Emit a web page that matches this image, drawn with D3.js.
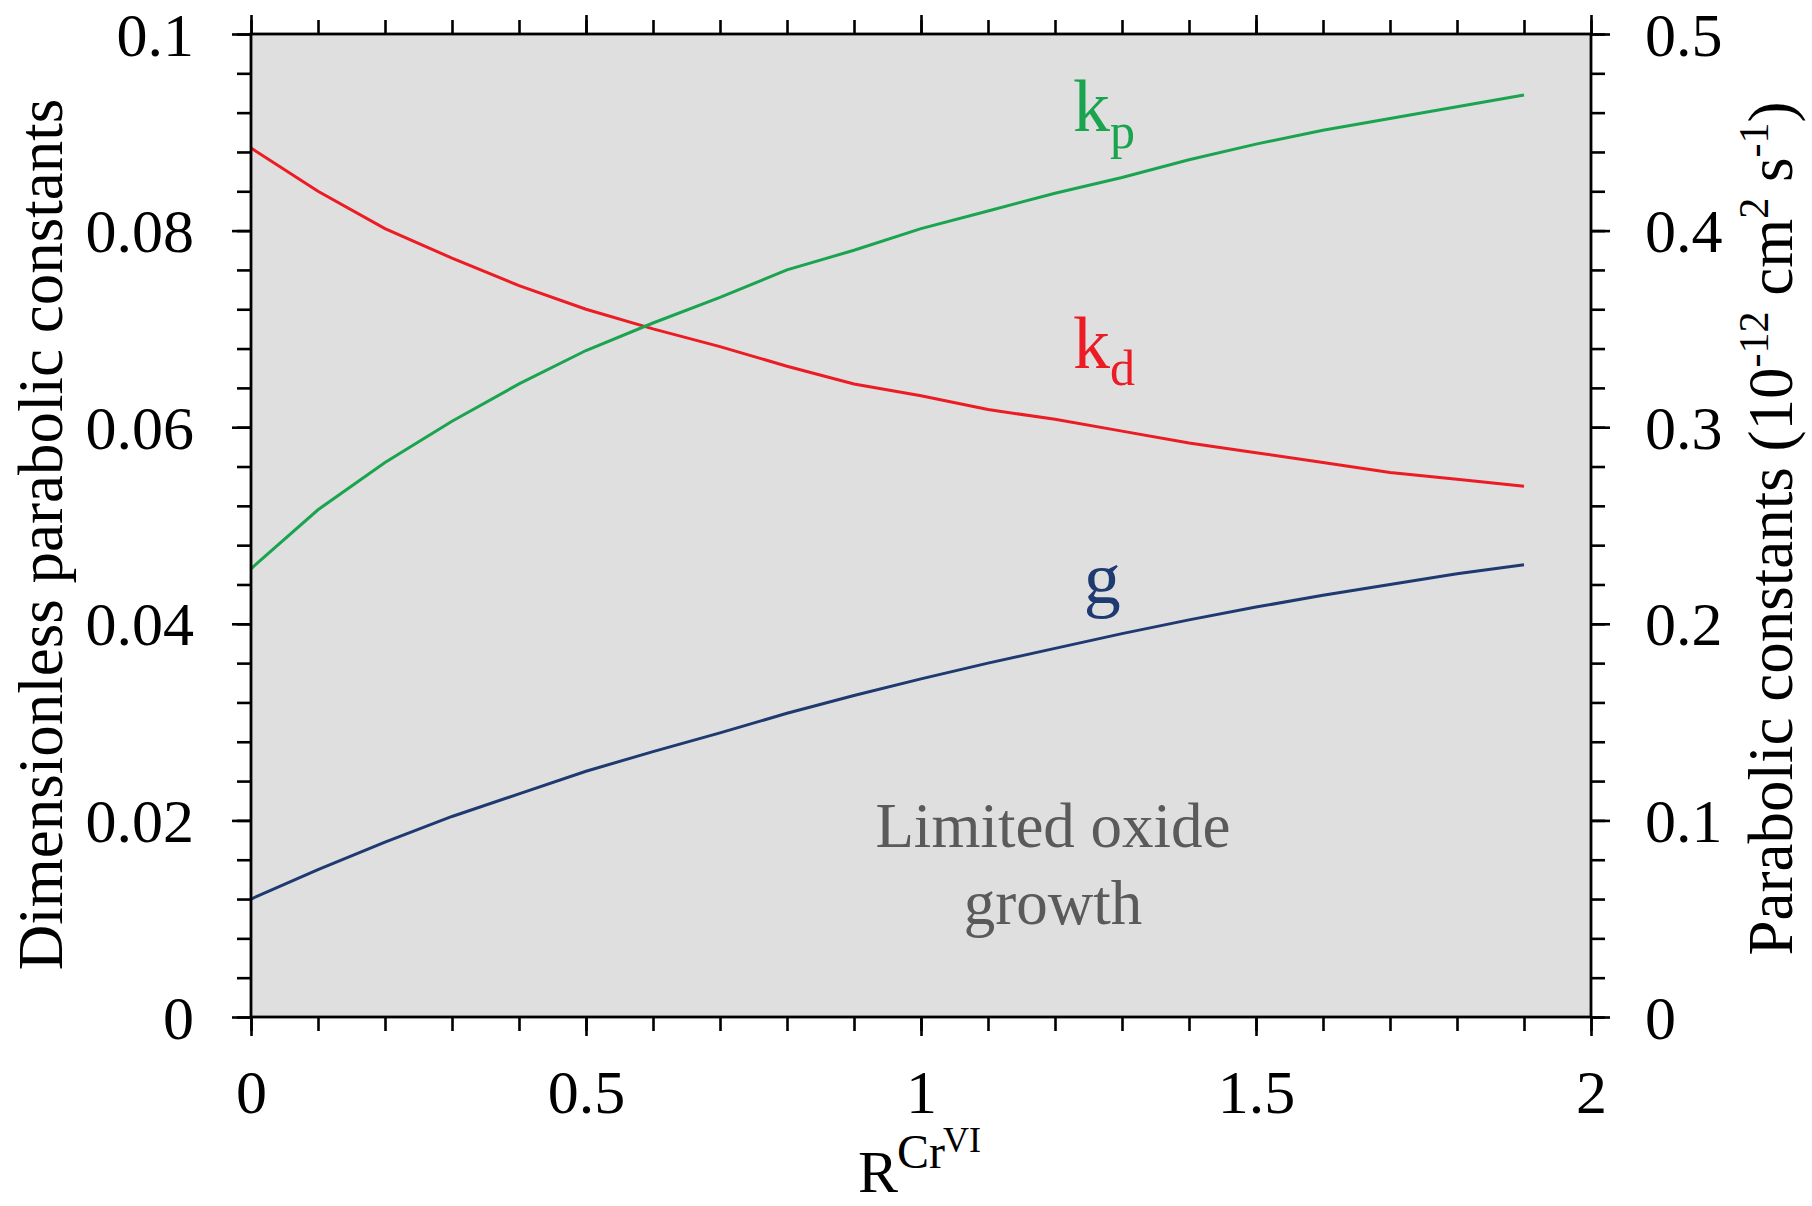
<!DOCTYPE html>
<html>
<head>
<meta charset="utf-8">
<script src="https://cdn.jsdelivr.net/npm/d3@7/dist/d3.min.js"></script>
<style>
  html, body { margin: 0; padding: 0; background: #ffffff; }
  svg { display: block; }
  text { font-family: "Liberation Serif", "Times New Roman", serif; }
</style>
</head>
<body>
<svg id="chart" width="1812" height="1206"></svg>
<script>
// R^CrVI values (x) and the three computed curves
const ratio = [0, 0.1, 0.2, 0.3, 0.4, 0.5, 0.6, 0.7, 0.8, 0.9,
               1.0, 1.1, 1.2, 1.3, 1.4, 1.5, 1.6, 1.7, 1.8, 1.9];
// parabolic constants, 10^-12 cm^2 s^-1 (right axis)
const kp = [0.228, 0.258, 0.282, 0.303, 0.322, 0.339, 0.353, 0.366, 0.380, 0.390,
            0.401, 0.410, 0.419, 0.427, 0.436, 0.444, 0.451, 0.457, 0.463, 0.469];
const kd = [0.442, 0.420, 0.401, 0.386, 0.372, 0.360, 0.350, 0.341, 0.331, 0.322,
            0.316, 0.309, 0.304, 0.298, 0.292, 0.287, 0.282, 0.277, 0.2735, 0.270];
// dimensionless constant (left axis)
const g = [0.0120, 0.0150, 0.0178, 0.0204, 0.0227, 0.0250, 0.0270, 0.0289, 0.0309, 0.0327,
           0.0344, 0.0360, 0.0375, 0.0390, 0.0404, 0.0417, 0.0429, 0.0440, 0.0451, 0.0460];

// tick values and labels
const xMajor = [0, 0.5, 1, 1.5, 2];
const xMajorLabels = ["0", "0.5", "1", "1.5", "2"];
const xMinor = d3.range(0, 21).map(i => i / 10);
const yLeftMajor = [0, 0.02, 0.04, 0.06, 0.08, 0.1];
const yLeftLabels = ["0", "0.02", "0.04", "0.06", "0.08", "0.1"];
const yLeftMinor = d3.range(0, 26).map(i => i * 0.004);
const yRightMajor = [0, 0.1, 0.2, 0.3, 0.4, 0.5];
const yRightLabels = ["0", "0.1", "0.2", "0.3", "0.4", "0.5"];
const yRightMinor = d3.range(0, 26).map(i => i * 0.02);

const colors = { kp: "#1ba44f", kd: "#ec1c24", g: "#1e3a70", note: "#5a5a5a" };

const svg = d3.select("#chart");
const m = { left: 251, right: 1591, top: 34, bottom: 1017 };

const x = d3.scaleLinear().domain([0, 2]).range([m.left, m.right]);
const yL = d3.scaleLinear().domain([0, 0.1]).range([m.bottom, m.top]);
const yR = d3.scaleLinear().domain([0, 0.5]).range([m.bottom, m.top]);

// plot background
svg.append("rect")
  .attr("x", m.left).attr("y", m.top)
  .attr("width", m.right - m.left).attr("height", m.bottom - m.top)
  .attr("fill", "#dfdfdf");

// curves
const lineR = d3.line().x((d, i) => x(ratio[i])).y(d => yR(d));
const lineL = d3.line().x((d, i) => x(ratio[i])).y(d => yL(d));

svg.append("path").datum(kd).attr("d", lineR)
  .attr("fill", "none").attr("stroke", colors.kd).attr("stroke-width", 3);
svg.append("path").datum(kp).attr("d", lineR)
  .attr("fill", "none").attr("stroke", colors.kp).attr("stroke-width", 3);
svg.append("path").datum(g).attr("d", lineL)
  .attr("fill", "none").attr("stroke", colors.g).attr("stroke-width", 3);

// axes
const tickFont = 62;
function styleAxis(sel) {
  sel.select(".domain").remove();
  sel.selectAll(".tick line").attr("stroke", "#000").attr("stroke-width", 2.6);
  sel.selectAll("text").attr("font-family", "Liberation Serif")
    .attr("font-size", tickFont).attr("fill", "#000");
}

// minor ticks
svg.append("g").attr("transform", `translate(0,${m.bottom})`)
  .call(d3.axisBottom(x).tickValues(xMinor).tickSize(14).tickFormat(""))
  .call(styleAxis);
svg.append("g").attr("transform", `translate(0,${m.top})`)
  .call(d3.axisTop(x).tickValues(xMinor).tickSize(14).tickFormat(""))
  .call(styleAxis);
svg.append("g").attr("transform", `translate(${m.left},0)`)
  .call(d3.axisLeft(yL).tickValues(yLeftMinor).tickSize(14).tickFormat(""))
  .call(styleAxis);
svg.append("g").attr("transform", `translate(${m.right},0)`)
  .call(d3.axisRight(yR).tickValues(yRightMinor).tickSize(14).tickFormat(""))
  .call(styleAxis);

// major ticks with labels
const gx = svg.append("g").attr("transform", `translate(0,${m.bottom})`)
  .call(d3.axisBottom(x).tickValues(xMajor).tickSize(19)
    .tickFormat((d, i) => xMajorLabels[i]))
  .call(styleAxis);
gx.selectAll("text").attr("y", 96).attr("dy", 0);

svg.append("g").attr("transform", `translate(0,${m.top})`)
  .call(d3.axisTop(x).tickValues(xMajor).tickSize(19).tickFormat(""))
  .call(styleAxis);

const gl = svg.append("g").attr("transform", `translate(${m.left},0)`)
  .call(d3.axisLeft(yL).tickValues(yLeftMajor).tickSize(19).tickPadding(38)
    .tickFormat((d, i) => yLeftLabels[i]))
  .call(styleAxis);
gl.selectAll("text").attr("dy", "0.34em");

const gr = svg.append("g").attr("transform", `translate(${m.right},0)`)
  .call(d3.axisRight(yR).tickValues(yRightMajor).tickSize(19).tickPadding(35)
    .tickFormat((d, i) => yRightLabels[i]))
  .call(styleAxis);
gr.selectAll("text").attr("dy", "0.34em");

// frame
svg.append("rect")
  .attr("x", m.left).attr("y", m.top)
  .attr("width", m.right - m.left).attr("height", m.bottom - m.top)
  .attr("fill", "none").attr("stroke", "#000").attr("stroke-width", 2.8);

// curve labels
function subLabel(main, sub, xv, yv, color) {
  const t = svg.append("text")
    .attr("x", x(xv)).attr("y", yL(yv))
    .attr("fill", color).attr("font-size", 74);
  t.append("tspan").text(main);
  t.append("tspan").attr("font-size", 50).attr("dy", 17).text(sub);
}
subLabel("k", "p", 1.227, 0.0901, colors.kp);
subLabel("k", "d", 1.227, 0.0660, colors.kd);

svg.append("text")
  .attr("x", x(1.243)).attr("y", yL(0.0421))
  .attr("fill", colors.g).attr("font-size", 74).text("g");

// region note
svg.append("text")
  .attr("x", x(1.197)).attr("y", yL(0.01729))
  .attr("text-anchor", "middle").attr("fill", colors.note)
  .attr("font-size", 63).text("Limited oxide");
svg.append("text")
  .attr("x", x(1.197)).attr("y", yL(0.00946))
  .attr("text-anchor", "middle").attr("fill", colors.note)
  .attr("font-size", 63).text("growth");

// axis titles
svg.append("text")
  .attr("transform", `translate(62,${(m.top + m.bottom) / 2 + 9}) rotate(-90)`)
  .attr("text-anchor", "middle").attr("font-size", 63).attr("fill", "#000")
  .text("Dimensionless parabolic constants");

const rt = svg.append("text")
  .attr("transform", `translate(1792,${(m.top + m.bottom) / 2 + 3}) rotate(-90)`)
  .attr("text-anchor", "middle").attr("font-size", 63).attr("fill", "#000");
rt.append("tspan").text("Parabolic constants (10");
rt.append("tspan").attr("font-size", 42).attr("dy", -24).text("-12");
rt.append("tspan").attr("dy", 24).text(" cm");
rt.append("tspan").attr("font-size", 42).attr("dy", -24).text("2");
rt.append("tspan").attr("dy", 24).text(" s");
rt.append("tspan").attr("font-size", 42).attr("dy", -24).text("-1");
rt.append("tspan").attr("dy", 24).text(")");

const xt = svg.append("text").attr("fill", "#000");
xt.append("tspan").attr("x", 858).attr("y", 1192).attr("font-size", 60).text("R");
xt.append("tspan").attr("x", 897).attr("y", 1168).attr("font-size", 48).text("Cr");
xt.append("tspan").attr("x", 943).attr("y", 1152).attr("font-size", 36).text("VI");
</script>
</body>
</html>
